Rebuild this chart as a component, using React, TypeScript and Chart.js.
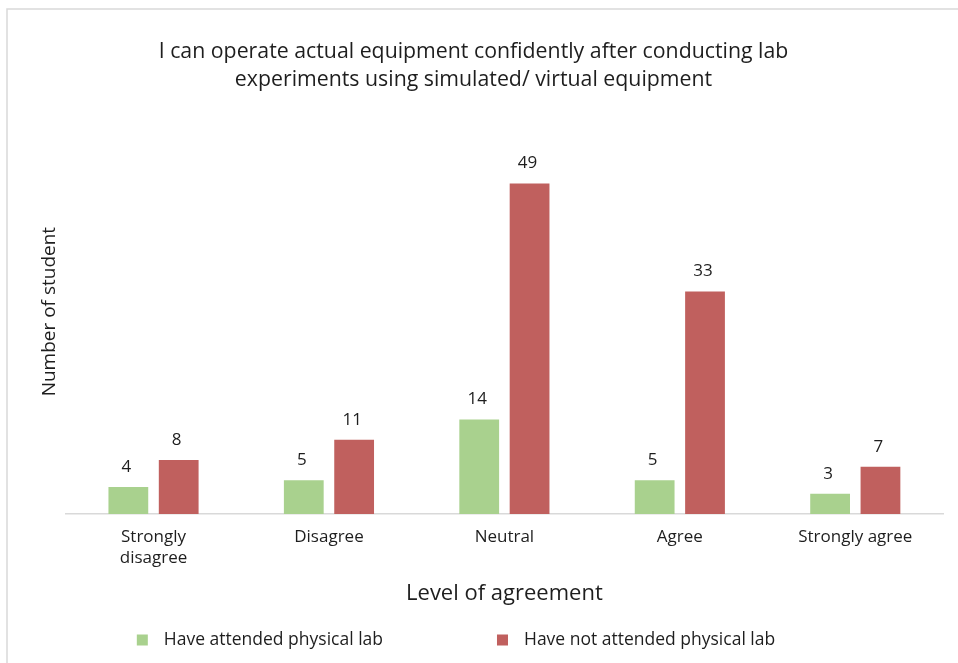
import React, { useEffect, useRef } from "react";
import { Chart, registerables } from "chart.js";

Chart.register(...registerables);

const categories: (string | string[])[] = [["Strongly", "disagree"], "Disagree", "Neutral", "Agree", "Strongly agree"];
const attended = [4, 5, 14, 5, 3];
const notAttended = [8, 11, 49, 33, 7];
const seriesNames = ["Have attended physical lab", "Have not attended physical lab"];
const seriesColors = ["#A9D18E", "#C0605E"];
const titleLines = [
  "I can operate actual equipment confidently after conducting lab",
  "experiments using simulated/ virtual equipment",
];
const xTitle = "Level of agreement";
const yTitle = "Number of student";

const FONT = "'Open Sans', 'DejaVu Sans', sans-serif";
const TEXT = "#1e1e1e";

const framePlugin = {
  id: "frame",
  beforeDraw(chart: any) {
    const { ctx, width, height } = chart;
    ctx.save();
    ctx.fillStyle = "#ffffff";
    ctx.fillRect(0, 0, width, height);
    ctx.strokeStyle = "#d9d9d9";
    ctx.lineWidth = 1.5;
    ctx.beginPath();
    ctx.moveTo(7, height);
    ctx.lineTo(7, 9);
    ctx.lineTo(width, 9);
    ctx.stroke();
    ctx.restore();
  },
};

const valueLabelPlugin = {
  id: "valueLabels",
  afterDatasetsDraw(chart: any) {
    const { ctx } = chart;
    ctx.save();
    ctx.font = `17px ${FONT}`;
    ctx.fillStyle = TEXT;
    ctx.textAlign = "center";
    ctx.textBaseline = "middle";
    chart.data.datasets.forEach((ds: any, i: number) => {
      const meta = chart.getDatasetMeta(i);
      meta.data.forEach((el: any, j: number) => {
        ctx.fillText(String(ds.data[j]), el.x - 2, el.y - 20);
      });
    });
    ctx.restore();
  },
};

const legendPlugin = {
  id: "customLegend",
  afterDraw(chart: any) {
    const { ctx, width } = chart;
    ctx.save();
    ctx.font = `17.5px ${FONT}`;
    ctx.textBaseline = "middle";
    ctx.textAlign = "left";
    const box = 11;
    const textGap = 16;
    const itemGap = 114;
    const items = chart.data.datasets.map((ds: any) => ({
      label: ds.label,
      color: ds.backgroundColor,
      w: ctx.measureText(ds.label).width,
    }));
    let total = 0;
    items.forEach((it: any, i: number) => {
      total += box + textGap + it.w + (i < items.length - 1 ? itemGap : 0);
    });
    let x = width * 0.476 - total / 2;
    const y = 640;
    items.forEach((it: any) => {
      ctx.fillStyle = it.color;
      ctx.fillRect(x, y - box / 2, box, box);
      ctx.fillStyle = TEXT;
      ctx.fillText(it.label, x + box + textGap, y);
      x += box + textGap + it.w + itemGap;
    });
    ctx.restore();
  },
};

export default function App() {
  const ref = useRef<HTMLCanvasElement | null>(null);
  useEffect(() => {
    if (!ref.current) return;
    Chart.defaults.font.family = FONT;
    const chart = new Chart(ref.current, {
      type: "bar",
      data: {
        labels: categories,
        datasets: [
          { label: seriesNames[0], data: attended, backgroundColor: seriesColors[0] },
          { label: seriesNames[1], data: notAttended, backgroundColor: seriesColors[1] },
        ],
      },
      options: {
        animation: false,
        responsive: true,
        maintainAspectRatio: false,
        layout: { padding: { top: 26, left: 4, right: 15, bottom: 59 } },
        datasets: { bar: { categoryPercentage: 0.574, barPercentage: 0.79 } },
        plugins: {
          legend: { display: false },
          tooltip: { enabled: false },
          title: {
            display: true,
            text: titleLines,
            color: TEXT,
            font: { size: 21.3, weight: "normal", family: FONT, lineHeight: 1.32 },
            padding: { top: 12, bottom: 15 },
          },
        },
        scales: {
          x: {
            grid: { display: false, drawTicks: false },
            border: { display: true, color: "#d9d9d9", width: 1.5 },
            ticks: { color: TEXT, font: { size: 17, lineHeight: 1.235 }, padding: 12.5, maxRotation: 0, autoSkip: false },
            title: {
              display: true,
              text: xTitle,
              color: TEXT,
              font: { size: 22, lineHeight: 1.1 },
              padding: { top: 0.8, bottom: -2 },
            },
          },
          y: {
            min: 0,
            max: 60,
            grid: { display: false, drawTicks: false },
            border: { display: false },
            ticks: { display: false },
            title: {
              display: true,
              text: yTitle,
              color: TEXT,
              font: { size: 19, lineHeight: 1.2 },
              padding: { top: 34, bottom: 5 },
            },
          },
        },
      },
      plugins: [framePlugin, valueLabelPlugin, legendPlugin],
    });
    return () => chart.destroy();
  }, []);
  return (
    <div style={{ position: "absolute", left: 0, top: 0, width: 958, height: 663 }}>
      <canvas ref={ref} style={{ display: "block" }} />
    </div>
  );
}
